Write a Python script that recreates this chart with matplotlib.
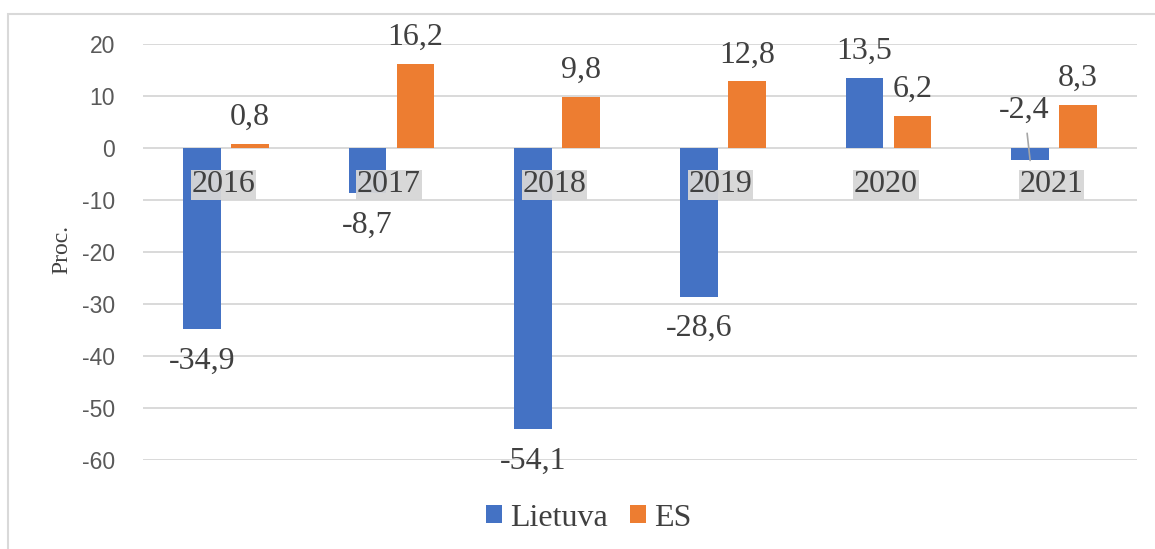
import numpy as np
import matplotlib
matplotlib.use("Agg")
import matplotlib.pyplot as plt
from matplotlib.patches import Rectangle

plt.rcParams["axes.unicode_minus"] = False

years = ["2016", "2017", "2018", "2019", "2020", "2021"]
lietuva = [-34.9, -8.7, -54.1, -28.6, 13.5, -2.4]
es = [0.8, 16.2, 9.8, 12.8, 6.2, 8.3]
yticks = [20, 10, 0, -10, -20, -30, -40, -50, -60]

BLUE = "#4472C4"
ORANGE = "#ED7D31"
GRID = "#D9D9D9"
TXT = "#404040"
SERIF = "Liberation Serif"


def fmt(v):
    return f"{v:.1f}".replace(".", ",")


fig = plt.figure(figsize=(11.55, 5.49), dpi=100)
W, H = 1155, 549
ax = fig.add_axes([143 / W, 1 - 460 / H, 994 / W, 416 / H])

# outer chart frame (cut off on the right / bottom)
fig.patches.append(Rectangle((8 / W, -0.05), 1.2, 1 - 14 / H + 0.05,
                             transform=fig.transFigure, fill=False,
                             edgecolor=GRID, lw=1.5, clip_on=False))

x = np.arange(len(years))
w = 0.228
off = 0.145
b1 = ax.bar(x - off, lietuva, w, color=BLUE, label="Lietuva", zorder=3)
b2 = ax.bar(x + off, es, w, color=ORANGE, label="ES", zorder=3)

ax.set_xlim(-0.5, len(years) - 0.5)
ax.set_ylim(-60, 20)
ax.set_yticks(yticks)
ax.set_xticks([])
ax.grid(axis="y", color=GRID, lw=1.4, zorder=0)
for s in ax.spines.values():
    s.set_visible(False)
ax.tick_params(axis="y", length=0, pad=20, labelsize=16.5, labelcolor="#595959")
for lab in ax.get_yticklabels():
    lab.set_fontfamily("Liberation Sans")

# data labels
def put_labels(xs, vals):
    for xi, v in zip(xs, vals):
        dy = 19 if v >= 0 else -23
        ax.annotate(fmt(v), xy=(xi, v), xytext=(0, dy), textcoords="offset points",
                    ha="center", va="center", fontsize=23, family=SERIF,
                    color=TXT, zorder=5)

put_labels(x[:-1] - off, lietuva[:-1])
put_labels(x + off, es)
# last blue label moved up with a leader line
ax.annotate(fmt(lietuva[-1]), xy=(x[-1] - off, lietuva[-1]), xytext=(-4, 36),
            textcoords="offset points", ha="center", va="center", fontsize=23,
            family=SERIF, color=TXT, zorder=5,
            arrowprops=dict(arrowstyle="-", color="#A6A6A6", lw=1.2,
                            shrinkA=4, shrinkB=0))

# category labels inside the plot
for xi, yr in zip(x, years):
    ax.text(xi - 0.015, -7.1, yr, ha="center", va="center", fontsize=23,
            family=SERIF, color=TXT, zorder=6,
            bbox=dict(boxstyle="square,pad=0.02", facecolor="#D6D6D6",
                      edgecolor="none", alpha=0.95))

fig.text(62 / W, 1 - 249 / H, "Proc.", rotation=90, ha="center", va="center",
         fontsize=17, family=SERIF, color=TXT)

leg = fig.legend(handles=[b1, b2], loc="center", bbox_to_anchor=(589 / W, 1 - 518 / H),
                 ncol=2, frameon=False, handlelength=0.5, handleheight=0.5,
                 handletextpad=0.25, columnspacing=0.7,
                 prop={"family": SERIF, "size": 23})
for t in leg.get_texts():
    t.set_color(TXT)

fig.savefig("out.png", dpi=100)
